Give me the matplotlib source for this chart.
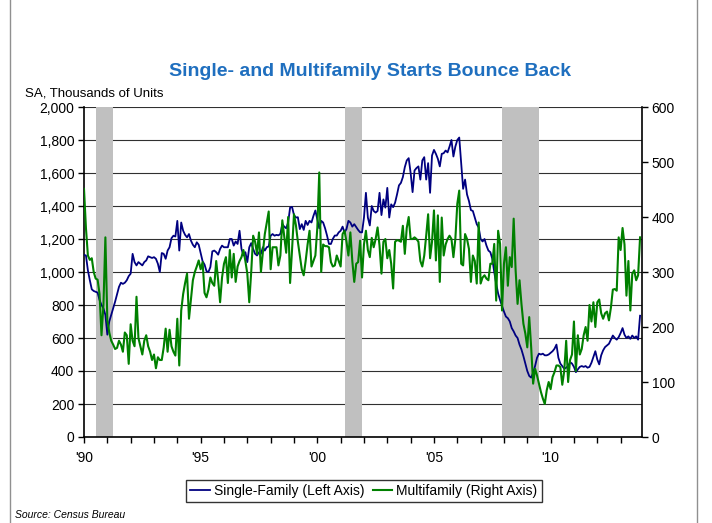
import matplotlib
matplotlib.use("Agg")
import matplotlib.pyplot as plt
from matplotlib.ticker import FuncFormatter, FixedLocator
from matplotlib.lines import Line2D
import numpy as np

plt.rcParams['font.family'] = ['Liberation Sans', 'DejaVu Sans']

# ---------------- data (monthly, SAAR, thousands of units) ----------------
start_year = 1990
# Single-family starts, left axis, Jan 1990 - Nov 2013
single_family = [
    1104, 1100, 1010, 950, 895, 885, 880, 875, 830, 800, 780, 740,        # 1990
    620, 700, 740, 780, 820, 865, 910, 935, 928, 935, 950, 975,           # 1991
    990, 1110, 1060, 1040, 1060, 1050, 1040, 1060, 1070, 1095, 1090, 1085,  # 1992
    1090, 1080, 1050, 1000, 1115, 1110, 1080, 1130, 1150, 1205, 1220, 1215,  # 1993
    1310, 1130, 1300, 1250, 1225, 1210, 1230, 1190, 1165, 1150, 1180, 1165,  # 1994
    1115, 1065, 1045, 1005, 1000, 1030, 1125, 1130, 1120, 1105, 1140, 1160,  # 1995
    1150, 1150, 1150, 1200, 1200, 1160, 1185, 1170, 1250, 1140, 1100, 1120,  # 1996
    1060, 1150, 1175, 1140, 1110, 1100, 1120, 1110, 1150, 1130, 1150, 1155,  # 1997
    1220, 1230, 1220, 1225, 1222, 1231, 1290, 1275, 1265, 1300, 1390, 1395,  # 1998
    1345, 1330, 1332, 1260, 1290, 1255, 1310, 1285, 1310, 1300, 1340, 1373,  # 1999
    1320, 1265, 1310, 1300, 1265, 1221, 1170, 1170, 1201, 1221, 1221, 1240,  # 2000
    1250, 1275, 1240, 1260, 1310, 1300, 1275, 1290, 1272, 1255, 1241, 1240,  # 2001
    1330, 1480, 1330, 1282, 1400, 1370, 1360, 1370, 1480, 1345, 1440, 1390,  # 2002
    1510, 1330, 1410, 1393, 1420, 1470, 1525, 1540, 1575, 1635, 1676, 1690,  # 2003
    1600, 1484, 1615, 1630, 1640, 1560, 1676, 1696, 1560, 1660, 1480, 1706,  # 2004
    1740, 1716, 1686, 1640, 1716, 1720, 1736, 1725, 1760, 1800, 1700, 1760,  # 2005
    1800, 1815, 1660, 1504, 1560, 1470, 1430, 1375, 1370, 1330, 1290, 1270,  # 2006
    1200, 1185, 1200, 1160, 1130, 1120, 1080, 1000, 930, 870, 830, 795,     # 2007
    760, 730, 720, 700, 660, 640, 615, 600, 560, 530, 490, 445,           # 2008
    400, 370, 360, 390, 430, 480, 505, 500, 505, 495, 495, 500,           # 2009
    510, 520, 535, 560, 480, 445, 430, 414, 420, 430, 454, 445,           # 2010
    425, 393, 410, 425, 430, 425, 430, 420, 425, 450, 484, 520,           # 2011
    470, 440, 495, 525, 545, 555, 565, 590, 615, 600, 590, 605,           # 2012
    630, 660, 620, 600, 610, 595, 615, 600, 610, 590, 735,                # 2013
]
# Multifamily starts, right axis, Jan 1990 - Nov 2013
multifamily = [
    451, 380, 330, 322, 325, 300, 288, 286, 260, 185, 240, 363,   # 1990
    212, 190, 175, 168, 160, 162, 175, 168, 155, 190, 185, 133,   # 1991
    205, 175, 165, 255, 180, 165, 150, 175, 185, 165, 155, 140,   # 1992
    150, 125, 145, 140, 140, 163, 197, 155, 195, 165, 155, 148,   # 1993
    215, 130, 230, 260, 280, 297, 215, 250, 285, 300, 310, 321,   # 1994
    305, 318, 262, 254, 268, 290, 280, 275, 320, 285, 245, 290,   # 1995
    315, 327, 280, 340, 290, 333, 282, 310, 320, 327, 340, 320,   # 1996
    297, 245, 300, 366, 355, 333, 372, 300, 336, 369, 390, 410,   # 1997
    305, 345, 345, 345, 312, 330, 394, 365, 335, 400, 280, 340,   # 1998
    405, 385, 355, 330, 305, 294, 320, 350, 375, 310, 320, 330,   # 1999
    380, 481, 300, 350, 347, 347, 345, 318, 310, 312, 330, 320,   # 2000
    310, 369, 375, 355, 330, 372, 320, 282, 315, 318, 357, 290,   # 2001
    350, 375, 340, 327, 362, 345, 360, 381, 348, 297, 355, 360,   # 2002
    325, 340, 315, 270, 355, 358, 357, 355, 384, 333, 380, 400,   # 2003
    360, 360, 363, 360, 355, 320, 310, 330, 366, 405, 325, 355,   # 2004
    412, 321, 403, 282, 399, 330, 350, 360, 366, 360, 327, 360,   # 2005
    424, 448, 315, 312, 369, 360, 342, 282, 330, 320, 279, 390,   # 2006
    279, 290, 294, 288, 285, 315, 315, 351, 248, 375, 351, 230,   # 2007
    315, 345, 275, 327, 309, 397, 303, 242, 285, 242, 206, 188,   # 2008
    163, 218, 163, 97, 124, 112, 97, 82, 70, 60, 85, 100,         # 2009
    87, 109, 118, 130, 130, 127, 95, 120, 175, 100, 140, 150,     # 2010
    210, 120, 185, 150, 160, 185, 200, 175, 240, 210, 245, 200,   # 2011
    245, 250, 225, 215, 225, 228, 212, 235, 268, 269, 266, 363,   # 2012
    340, 380, 350, 257, 320, 230, 297, 303, 285, 294, 363,        # 2013
]
# Recessions (first and last month, as year + month/12)
recession_start = [1990 + 6 / 12, 2001 + 2 / 12, 2007 + 11 / 12]
recession_end = [1991 + 2 / 12, 2001 + 10 / 12, 2009 + 5 / 12]

year_labels = {1990: "'90", 1995: "'95", 2000: "'00", 2005: "'05", 2010: "'10"}

# ---------------- figure ----------------
fig = plt.figure(figsize=(7.12, 5.23), dpi=100)
ax = fig.add_axes([84 / 712, 1 - 437 / 523, (642 - 84) / 712, (437 - 107) / 523])
ax2 = ax.twinx()

x_sf = start_year + np.arange(len(single_family)) / 12.0
x_mf = start_year + np.arange(len(multifamily)) / 12.0

ax.set_axisbelow(True)
for s, e in zip(recession_start, recession_end):
    ax.axvspan(s, e + 1 / 12, color='#c0c0c0', lw=0, zorder=1)

l1, = ax.plot(x_sf, single_family, color='#000080', lw=1.3, zorder=3,
              label='Single-Family (Left Axis)')
l2, = ax2.plot(x_mf, multifamily, color='#008000', lw=1.5, zorder=3,
               label='Multifamily (Right Axis)')

ax.set_xlim(start_year, start_year + 287 / 12)
ax.set_ylim(0, 2000)
ax2.set_ylim(0, 600)

ax.set_yticks(np.arange(0, 2001, 200))
ax.yaxis.set_major_formatter(FuncFormatter(lambda v, p: f"{int(v):,}"))
ax2.set_yticks(np.arange(0, 601, 100))

years = np.arange(1990, 2014)
ax.xaxis.set_major_locator(FixedLocator(years))
ax.set_xticklabels([year_labels.get(y, '') for y in years])

ax.grid(axis='y', color='#303030', lw=0.8, zorder=0)
ax.grid(axis='x', visible=False)

for a in (ax, ax2):
    a.spines['top'].set_visible(False)
    for sp in a.spines.values():
        sp.set_linewidth(1.2)
        sp.set_color('black')
ax.spines['right'].set_visible(False)
ax2.spines['left'].set_visible(False)
ax2.spines['bottom'].set_visible(False)

ax.tick_params(axis='y', direction='out', length=4, width=1, labelsize=10, pad=3)
ax.tick_params(axis='x', direction='out', length=4, width=1, labelsize=10, pad=6)
ax2.tick_params(axis='y', direction='out', length=4, width=1, labelsize=10, pad=3)

fig.text(0.52, 1 - 72 / 523, 'Single- and Multifamily Starts Bounce Back',
         ha='center', va='center', fontsize=14, fontweight='bold', color='#1f6fbf')
fig.text(25 / 712, 1 - 94 / 523, 'SA, Thousands of Units', ha='left', va='center',
         fontsize=9.5)
fig.text(15 / 712, 1 - 515 / 523, 'Source: Census Bureau', ha='left', va='center',
         fontsize=7.5, style='italic')

leg = fig.legend(handles=[l1, l2], loc='center', bbox_to_anchor=(364 / 712, 1 - 491 / 523),
                 ncol=2, frameon=True, fancybox=False, edgecolor='black', fontsize=10,
                 handlelength=1.4, handletextpad=0.3, columnspacing=0.6,
                 borderpad=0.3)
leg.get_frame().set_linewidth(1.0)

# outer chart-area frame (left and right edges)
for xpix in (10, 697):
    fig.add_artist(Line2D([xpix / 712, xpix / 712], [0, 1], transform=fig.transFigure,
                          color='#909090', lw=1.0))

fig.savefig('out.png', dpi=100)
